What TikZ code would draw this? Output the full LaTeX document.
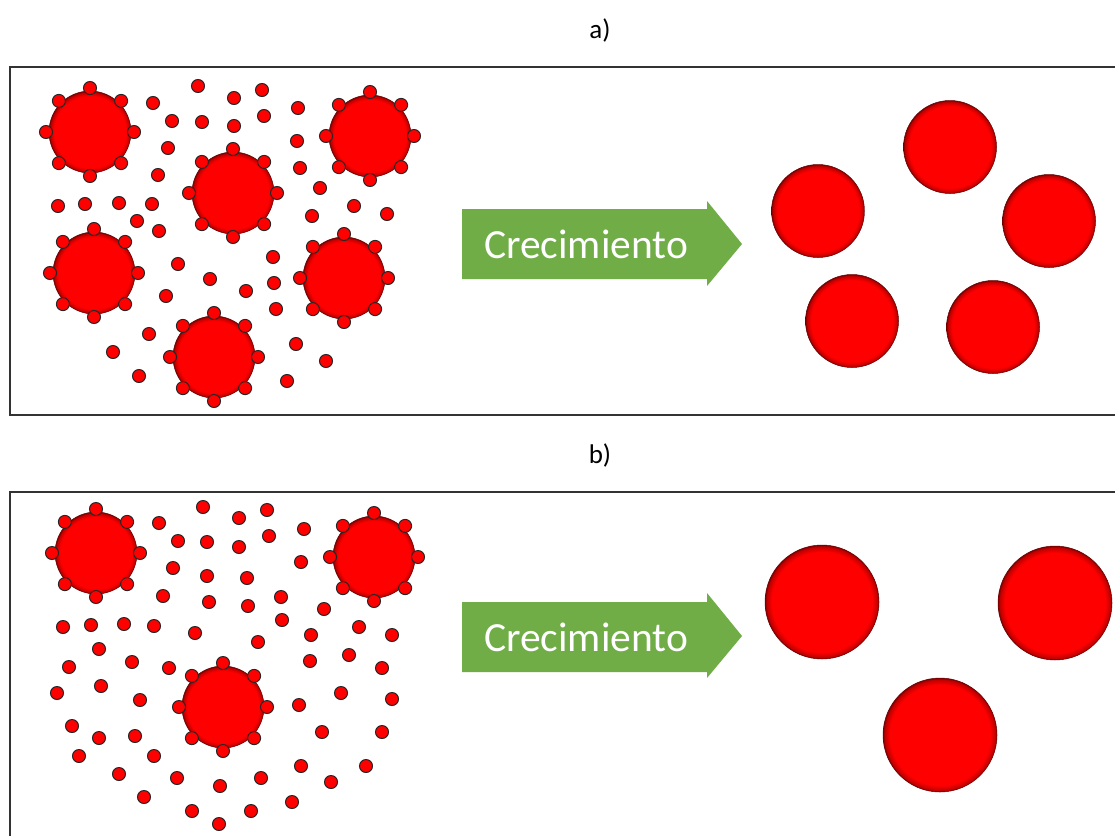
\documentclass[tikz,border=0pt]{standalone}
\usepackage{fontspec}
\setmainfont{Carlito}
\definecolor{growgreen}{HTML}{70AD47}
\pgfdeclareradialshading{redball}{\pgfpoint{0bp}{0bp}}{%
  color(0bp)=(red); color(22bp)=(red); color(24.3bp)=(red!75!black);
  color(25bp)=(red!50!black); color(50bp)=(red!50!black)}
\begin{document}
\begin{tikzpicture}[x=1pt, y=-1pt,
  frame/.style={draw=black!80, line width=1.2pt},
  tag/.style={font=\fontsize{27}{30}\selectfont},
  seed/.style={circle, inner sep=0pt, minimum size=#1, shading=redball,
               draw=red!40!black, line width=0.5pt},
  dot/.style={circle, inner sep=0pt, minimum size=13pt, fill=red,
              draw=black!85, line width=1pt},
  growlabel/.style={font=\fontsize{41.5}{44}\selectfont, text=white, inner sep=0pt},
  arrowfill/.style={fill=growgreen}
]
  \clip (0,0) rectangle (1115,835);
  \fill[white] (0,0) rectangle (1115,835);

  % panel labels and frames
  \node[tag] (la) at (600,30) {a)};
  \node[tag] (lb) at (600,455) {b)};
  \draw[frame] (10,67) rectangle (1130,415);
  \draw[frame] (10,492) rectangle (1130,850);

  % growth arrows
  \fill[arrowfill] (462,209) -- (707,209) -- (707,201) -- (742,244)
    -- (707,286) -- (707,279) -- (462,279) -- cycle;
  \node[growlabel] (ga) at (586,244) {Crecimiento};
  \fill[arrowfill] (462,602) -- (707,602) -- (707,593) -- (742,636)
    -- (707,678) -- (707,672) -- (462,672) -- cycle;
  \node[growlabel] (gb) at (586,637) {Crecimiento};

  % a) nuclei with their monomers
  \foreach \x/\y [count=\i] in {90/132, 233/193, 370/136, 94/273, 344/278, 214/357} {
    \node[seed=82pt] (sa\i) at (\x,\y) {};
    \foreach \a in {0,45,...,315}
      \path (sa\i.center) ++(\a:44) node[dot] (sa\i-\a) {};
  }
  \foreach \x/\y [count=\i] in {198/86, 234/98, 262/90, 153/103, 298/108, 172/121,
      202/122, 234/126, 264/116, 168/148, 297/141, 158/175, 300/168, 320/188,
      58/206, 85/204, 119/203, 152/204, 137/221, 159/231, 354/206, 387/214,
      312/216, 273/257, 178/264, 210/279, 246/291, 274/283, 166/296, 276/309,
      149/334, 113/352, 139/376, 296/344, 326/361, 287/381}
    \node[dot] (ma\i) at (\x,\y) {};

  % a) grown particles
  \foreach \x/\y [count=\i] in {950/147, 818/211, 1049/221, 852/321, 993/327}
    \node[seed=93pt] (pa\i) at (\x,\y) {};

  % b) nuclei with their monomers
  \foreach \x/\y [count=\i] in {96/553, 374/557, 223/707} {
    \node[seed=82pt] (sb\i) at (\x,\y) {};
    \foreach \a in {0,45,...,315}
      \path (sb\i.center) ++(\a:44) node[dot] (sb\i-\a) {};
  }
  \foreach \x/\y [count=\i] in {203/507, 239/518, 267/510, 159/523, 304/529,
      178/541, 207/542, 239/547, 269/536, 173/568, 207/576, 247/578, 301/562,
      163/596, 209/602, 248/606, 281/597, 282/620, 324/609, 63/627, 91/625,
      124/624, 154/626, 195/633, 258/642, 311/635, 359/627, 392/635, 99/649,
      69/667, 132/662, 169/668, 310/661, 349/655, 382/668, 57/693, 101/686,
      140/700, 299/705, 341/693, 392/699, 72/726, 99/738, 135/736, 322/732,
      382/732, 79/756, 154/756, 119/774, 177/778, 220/786, 261/778, 301/766,
      331/782, 366/766, 144/797, 192/811, 251/811, 292/802, 219/824}
    \node[dot] (mb\i) at (\x,\y) {};

  % b) grown particles
  \foreach \x/\y [count=\i] in {822/602, 1055/603, 940/735}
    \node[seed=114pt] (pb\i) at (\x,\y) {};
\end{tikzpicture}
\end{document}
